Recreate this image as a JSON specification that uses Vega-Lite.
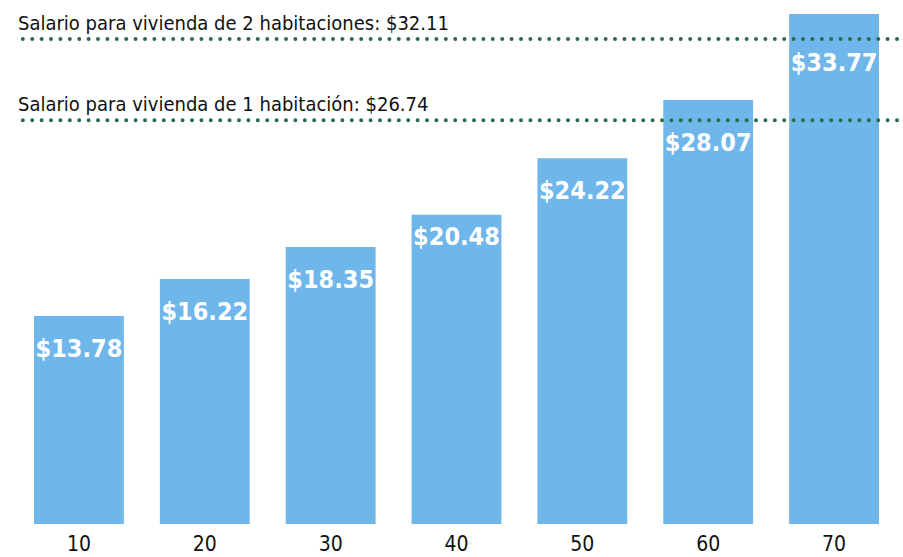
{
  "$schema": "https://vega.github.io/schema/vega-lite/v6.json",
  "width": 881,
  "height": 524,
  "padding": {"left": 16, "top": 0, "right": 6, "bottom": 33},
  "autosize": {"type": "none"},
  "background": "white",
  "config": {"view": {"stroke": null}, "font": "DejaVu Sans Condensed"},
  "datasets": {
    "bars": [
      {"pct": "10", "wage": 13.78},
      {"pct": "20", "wage": 16.22},
      {"pct": "30", "wage": 18.35},
      {"pct": "40", "wage": 20.48},
      {"pct": "50", "wage": 24.22},
      {"pct": "60", "wage": 28.07},
      {"pct": "70", "wage": 33.77}
    ],
    "lines": [
      {"value": 32.11, "label": "Salario para vivienda de 2 habitaciones: $32.11"},
      {"value": 26.74, "label": "Salario para vivienda de 1 habitación: $26.74"}
    ]
  },
  "layer": [
    {
      "data": {"name": "bars"},
      "mark": {"type": "bar", "color": "#6fb6ea"},
      "encoding": {
        "x": {"field": "pct", "type": "ordinal", "sort": null,
          "scale": {"paddingInner": 0.286, "paddingOuter": 0.143},
          "axis": {"title": null, "labelAngle": 0, "domain": false, "ticks": false, "labelFontSize": 21, "labelColor": "#111111", "labelPadding": 9, "labelFont": "DejaVu Sans Condensed"}},
        "y": {"field": "wage", "type": "quantitative", "scale": {"domain": [0, 34.7], "nice": false}, "axis": null}
      }
    },
    {
      "data": {"name": "bars"},
      "transform": [{"filter": "datum.pct !== '40' && datum.pct !== '60' && datum.pct !== '70'"}],
      "mark": {"type": "text", "color": "white", "fontWeight": "bold", "fontSize": 25, "baseline": "alphabetic", "dy": 41, "font": "DejaVu Sans Condensed"},
      "encoding": {
        "x": {"field": "pct", "type": "ordinal", "sort": null},
        "y": {"field": "wage", "type": "quantitative"},
        "text": {"field": "wage", "type": "quantitative", "format": "$.2f"}
      }
    },
    {
      "data": {"name": "bars"},
      "transform": [{"filter": "datum.pct === '40'"}],
      "mark": {"type": "text", "color": "white", "fontWeight": "bold", "fontSize": 25, "baseline": "alphabetic", "dy": 30, "font": "DejaVu Sans Condensed"},
      "encoding": {
        "x": {"field": "pct", "type": "ordinal", "sort": null},
        "y": {"field": "wage", "type": "quantitative"},
        "text": {"field": "wage", "type": "quantitative", "format": "$.2f"}
      }
    },
    {
      "data": {"name": "bars"},
      "transform": [{"filter": "datum.pct === '60'"}],
      "mark": {"type": "text", "color": "white", "fontWeight": "bold", "fontSize": 25, "baseline": "alphabetic", "dy": 51, "font": "DejaVu Sans Condensed"},
      "encoding": {
        "x": {"field": "pct", "type": "ordinal", "sort": null},
        "y": {"field": "wage", "type": "quantitative"},
        "text": {"field": "wage", "type": "quantitative", "format": "$.2f"}
      }
    },
    {
      "data": {"name": "bars"},
      "transform": [{"filter": "datum.pct === '70'"}],
      "mark": {"type": "text", "color": "white", "fontWeight": "bold", "fontSize": 25, "baseline": "alphabetic", "dy": 57, "font": "DejaVu Sans Condensed"},
      "encoding": {
        "x": {"field": "pct", "type": "ordinal", "sort": null},
        "y": {"field": "wage", "type": "quantitative"},
        "text": {"field": "wage", "type": "quantitative", "format": "$.2f"}
      }
    },
    {
      "data": {"name": "lines"},
      "mark": {"type": "rule", "color": "#2b6b4c", "strokeWidth": 4, "strokeDash": [0, 9.4], "strokeCap": "round"},
      "encoding": {
        "y": {"field": "value", "type": "quantitative"}
      }
    },
    {
      "data": {"name": "lines"},
      "mark": {"type": "text", "align": "left", "baseline": "alphabetic", "dy": -9, "dx": -16, "fontSize": 20, "color": "#111111", "font": "DejaVu Sans Condensed"},
      "encoding": {
        "x": {"datum": "10", "type": "ordinal", "bandPosition": 0},
        "y": {"field": "value", "type": "quantitative"},
        "text": {"field": "label"}
      }
    }
  ]
}
